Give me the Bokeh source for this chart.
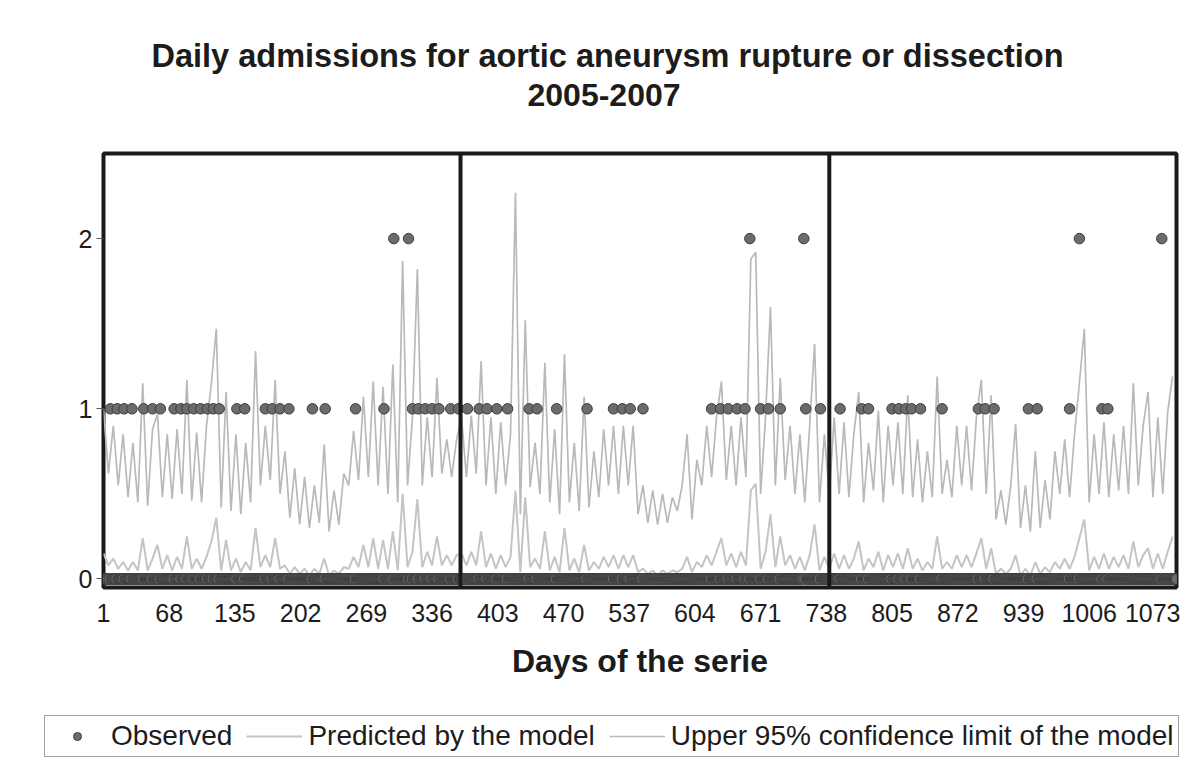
from bokeh.plotting import figure
from bokeh.layouts import column
from bokeh.models import Range1d, FixedTicker, Span, Title, Legend, LegendItem
from bokeh.embed import file_html
from bokeh.resources import INLINE

# ---------------- data ----------------
n_days = 1095
x_ticks = [1, 68, 135, 202, 269, 336, 403, 470, 537, 604, 671, 738, 805, 872, 939, 1006, 1073]
y_ticks = [0, 1, 2]

# days with one observed admission / two observed admissions (all other days: 0)
days_one = [8, 15, 22, 30, 42, 51, 59, 73, 80, 86, 93, 100, 107, 113, 119, 137, 145,
            166, 173, 181, 190, 214, 227, 258, 287, 316, 322, 329, 336, 343, 355, 363,
            372, 384, 392, 402, 413, 435, 443, 463, 494, 521, 530, 538, 551, 621, 630,
            638, 647, 655, 671, 679, 691, 717, 732,
            752, 774, 781, 805, 812, 819, 825, 834, 856, 893, 900, 909, 944, 953, 986,
            1019, 1025]
days_two = [297, 312, 660, 715, 996, 1080]

# model lines, read every 5th day (days 1, 6, 11, ...)
upper_2005 = [1.00, 0.62, 0.90, 0.55, 0.85, 0.48, 0.80, 0.45, 1.15, 0.43,
              0.88, 0.97, 0.48, 0.85, 0.47, 0.88, 0.50, 1.17, 0.46, 0.86,
              0.45, 0.90, 1.15, 1.47, 0.42, 1.10, 0.40, 0.85, 0.38, 0.80,
              0.45, 1.34, 0.55, 0.90, 0.58, 1.17, 0.50, 0.75, 0.36, 0.65,
              0.32, 0.60, 0.30, 0.55, 0.33, 0.79, 0.28, 0.52, 0.32, 0.62,
              0.55, 0.87, 0.58, 1.07, 0.60, 1.16, 0.55, 1.13, 0.50, 1.26,
              0.45, 1.87, 0.55, 0.95, 1.82, 0.55, 0.95, 0.60, 1.18, 0.62,
              0.82, 0.60, 0.82]
upper_2006 = [0.95, 0.60, 0.96, 0.62, 1.28, 0.55, 0.95, 0.50, 0.92, 0.55,
              0.85, 2.27, 0.38, 1.52, 0.54, 0.80, 0.50, 1.27, 0.45, 0.88,
              0.38, 1.32, 0.45, 0.80, 0.40, 1.07, 0.42, 0.75, 0.48, 0.88,
              0.55, 0.90, 0.50, 0.90, 0.55, 0.90, 0.38, 0.55, 0.33, 0.52,
              0.32, 0.50, 0.33, 0.48, 0.40, 0.55, 0.85, 0.35, 0.70, 0.55,
              0.90, 0.60, 0.95, 1.16, 0.58, 0.90, 0.55, 0.95, 0.60, 1.88,
              1.92, 0.50, 0.95, 1.60, 0.55, 1.18, 0.58, 0.90, 0.50, 0.85,
              0.45, 0.90, 1.38, 0.45, 0.85, 0.50]
upper_2007 = [0.95, 0.50, 0.92, 0.48, 0.85, 1.10, 0.45, 0.80, 0.52, 0.99,
              0.45, 0.90, 0.55, 0.92, 0.50, 1.08, 0.48, 0.82, 0.45, 0.75,
              0.48, 1.19, 0.50, 0.70, 0.48, 0.90, 0.55, 0.90, 0.52, 0.95,
              1.17, 0.50, 1.08, 0.35, 0.52, 0.32, 0.55, 0.91, 0.30, 0.55,
              0.28, 0.75, 0.30, 0.58, 0.35, 0.75, 0.50, 0.82, 0.48, 0.85,
              1.15, 1.47, 0.45, 0.85, 0.50, 0.92, 0.48, 0.85, 0.52, 0.90,
              0.50, 1.15, 0.55, 0.90, 1.10, 0.48, 0.95, 0.50, 0.98, 1.19]

pred_2005 = [0.15, 0.08, 0.12, 0.06, 0.10, 0.05, 0.10, 0.05, 0.24, 0.05,
             0.12, 0.20, 0.06, 0.14, 0.05, 0.13, 0.06, 0.25, 0.06, 0.12,
             0.06, 0.13, 0.22, 0.36, 0.05, 0.23, 0.05, 0.12, 0.04, 0.10,
             0.05, 0.30, 0.07, 0.14, 0.07, 0.24, 0.06, 0.08, 0.03, 0.07,
             0.03, 0.06, 0.02, 0.06, 0.03, 0.12, 0.02, 0.05, 0.03, 0.07,
             0.06, 0.13, 0.07, 0.20, 0.07, 0.24, 0.06, 0.23, 0.06, 0.28,
             0.05, 0.50, 0.07, 0.16, 0.47, 0.07, 0.16, 0.08, 0.25, 0.08,
             0.14, 0.08, 0.14]
pred_2006 = [0.15, 0.08, 0.16, 0.08, 0.28, 0.07, 0.15, 0.06, 0.14, 0.07,
             0.13, 0.52, 0.04, 0.48, 0.07, 0.12, 0.06, 0.28, 0.05, 0.13,
             0.04, 0.30, 0.05, 0.12, 0.04, 0.20, 0.05, 0.10, 0.06, 0.13,
             0.07, 0.14, 0.06, 0.14, 0.07, 0.14, 0.04, 0.06, 0.03, 0.05,
             0.02, 0.05, 0.03, 0.05, 0.04, 0.06, 0.13, 0.04, 0.10, 0.07,
             0.14, 0.08, 0.16, 0.24, 0.08, 0.15, 0.07, 0.16, 0.08, 0.52,
             0.56, 0.06, 0.16, 0.38, 0.07, 0.25, 0.08, 0.14, 0.06, 0.13,
             0.05, 0.14, 0.32, 0.05, 0.13, 0.06]
pred_2007 = [0.15, 0.06, 0.14, 0.06, 0.12, 0.22, 0.05, 0.12, 0.07, 0.16,
             0.05, 0.14, 0.07, 0.15, 0.06, 0.18, 0.06, 0.12, 0.05, 0.10,
             0.06, 0.25, 0.06, 0.10, 0.06, 0.14, 0.07, 0.14, 0.07, 0.15,
             0.24, 0.06, 0.18, 0.03, 0.06, 0.03, 0.06, 0.14, 0.02, 0.06,
             0.02, 0.10, 0.03, 0.07, 0.04, 0.10, 0.06, 0.12, 0.06, 0.13,
             0.24, 0.35, 0.05, 0.13, 0.06, 0.15, 0.06, 0.13, 0.07, 0.14,
             0.06, 0.22, 0.07, 0.14, 0.18, 0.06, 0.15, 0.06, 0.16, 0.25]

# ---------------- assemble ----------------
upper_ci = upper_2005 + upper_2006 + upper_2007
predicted = pred_2005 + pred_2006 + pred_2007
line_days = [1 + 5 * i for i in range(len(upper_ci))]

obs_days = list(range(1, n_days + 1))
obs_counts = [2 if d in days_two else (1 if d in days_one else 0) for d in obs_days]

FONT = "Liberation Sans"
TXT = "#1c1c1c"
SP = "\u00a0"
PRED_STYLE = dict(line_color="#c4c4c4", line_width=2)
UPPER_STYLE = dict(line_color="#b9b9b9", line_width=1.7)
OBS_STYLE = dict(size=10.5, fill_color="#6b6b6b", line_color="#3d3d3d", line_width=1)

# ---------------- main chart ----------------
p = figure(width=1180, height=715, output_backend="svg", toolbar_location=None,
           title=None, x_range=Range1d(1, 1095), y_range=Range1d(-0.05, 2.5),
           min_border_left=103, min_border_right=4, min_border_top=153,
           min_border_bottom=128)
p.background_fill_color = "white"
p.border_fill_color = "white"
p.outline_line_color = "#1a1a1a"
p.outline_line_width = 4
p.xgrid.visible = False
p.ygrid.visible = False

p.line(line_days, predicted, **PRED_STYLE)
p.line(line_days, upper_ci, **UPPER_STYLE)
p.scatter(obs_days, obs_counts, **OBS_STYLE)

for loc in (365, 741):
    p.add_layout(Span(location=loc, dimension="height", line_color="#1a1a1a",
                      line_width=4))

xa = p.xaxis[0]
xa.ticker = FixedTicker(ticks=x_ticks)
xa.axis_line_color = None
xa.major_tick_out = 0
xa.major_tick_in = 0
xa.minor_tick_line_color = None
xa.major_label_standoff = 16
xa.major_label_text_font = FONT
xa.major_label_text_font_size = "25px"
xa.major_label_text_color = TXT
xa.axis_label = "Days of the serie"
xa.axis_label_text_font = FONT
xa.axis_label_text_font_size = "32px"
xa.axis_label_text_font_style = "bold"
xa.axis_label_text_color = TXT
xa.axis_label_standoff = 18

ya = p.yaxis[0]
ya.ticker = FixedTicker(ticks=y_ticks)
ya.axis_line_color = None
ya.major_tick_out = 7
ya.major_tick_in = 0
ya.major_tick_line_color = "#555555"
ya.minor_tick_line_color = None
ya.major_label_standoff = 4
ya.major_label_text_font = FONT
ya.major_label_text_font_size = "25px"
ya.major_label_text_color = TXT

# title (above, stacked outward from the frame)
p.add_layout(Title(text=SP, text_font_size="32px", standoff=2), "above")
p.add_layout(Title(text="2005-2007", align="left", offset=424, standoff=16,
                   text_font=FONT, text_font_size="32px", text_font_style="bold",
                   text_color=TXT), "above")
p.add_layout(Title(text="Daily admissions for aortic aneurysm rupture or dissection",
                   align="left", offset=48, standoff=0, text_font=FONT,
                   text_font_size="32.5px", text_font_style="bold", text_color=TXT),
             "above")

# ---------------- legend strip ----------------
lg = figure(width=1180, height=45, output_backend="svg", toolbar_location=None,
            title=None, x_range=Range1d(0, 1), y_range=Range1d(10, 11),
            x_axis_location=None, y_axis_location=None,
            min_border_left=0, min_border_right=0, min_border_top=0,
            min_border_bottom=0)
if "frame_align" in lg.properties():
    lg.frame_align = False
    leg_x = 44
else:
    leg_x = -59
lg.outline_line_color = None
lg.xgrid.visible = False
lg.ygrid.visible = False
lg.background_fill_color = "white"
lg.border_fill_color = "white"
# same series (outside this strip's view) so that the legend shows their styles
l_obs = lg.scatter(obs_days, obs_counts, **OBS_STYLE)
l_pred = lg.line(line_days, predicted, **PRED_STYLE)
l_upper = lg.line(line_days, upper_ci, **UPPER_STYLE)

legend = Legend(items=[LegendItem(label="Observed", renderers=[l_obs]),
                       LegendItem(label="Predicted by the model", renderers=[l_pred]),
                       LegendItem(label="Upper 95% confidence limit of the model",
                                  renderers=[l_upper])],
                location=(leg_x, 3), orientation="horizontal")
legend.label_text_font = FONT
legend.label_text_font_size = "28px"
legend.label_text_color = TXT
legend.glyph_width = 56
legend.glyph_height = 20
legend.label_standoff = 6
legend.spacing = 14
legend.padding = 4
legend.margin = 0
legend.border_line_color = "#444444"
legend.border_line_width = 1.5
legend.background_fill_color = "white"
legend.background_fill_alpha = 1.0
lg.add_layout(legend)

layout = column(p, lg, spacing=0)
open("out.html", "w").write(file_html(layout, INLINE))
